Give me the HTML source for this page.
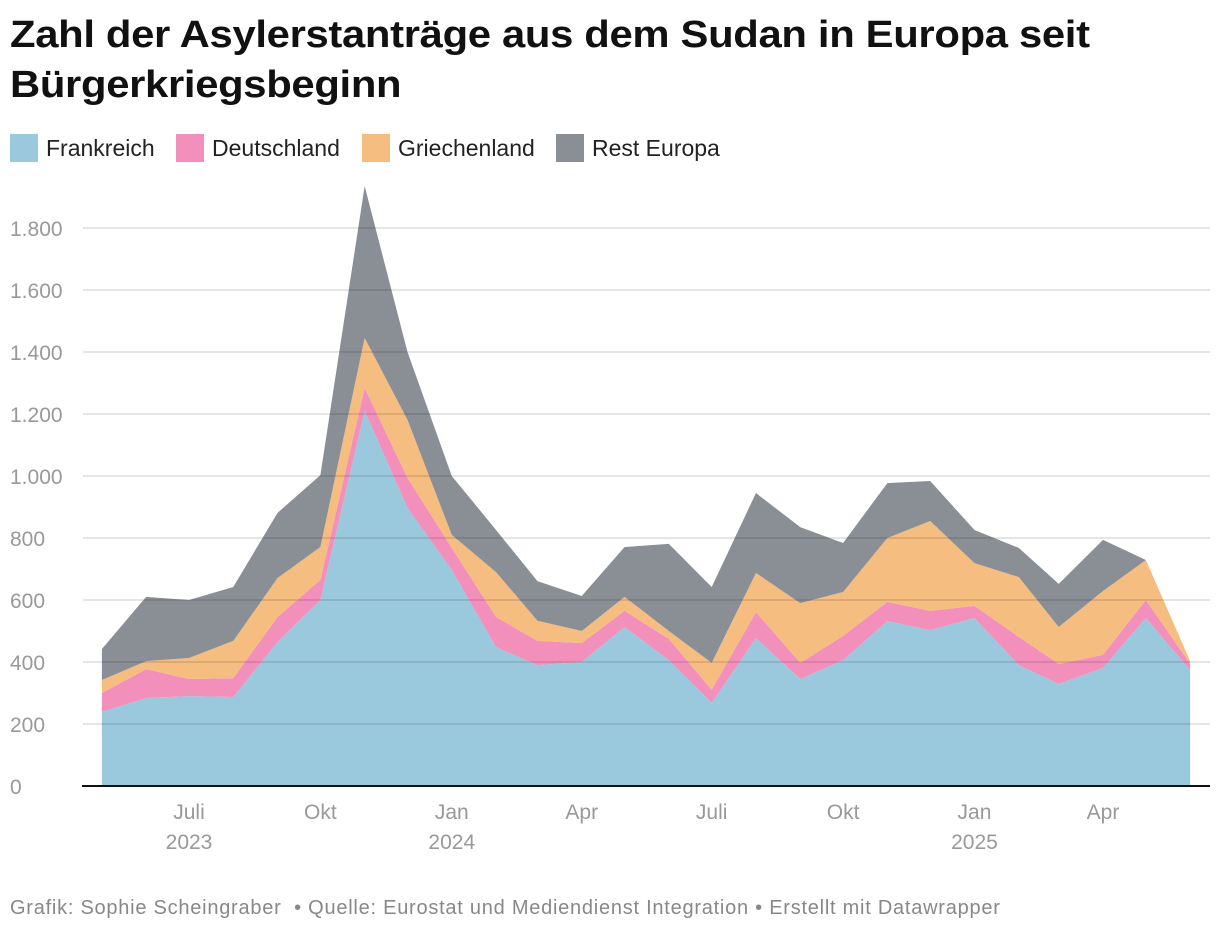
<!DOCTYPE html>
<html><head><meta charset="utf-8"><style>
body{margin:0;background:#fff;font-family:"Liberation Sans",sans-serif;width:1220px;height:932px;overflow:hidden;position:relative}
h1{position:absolute;left:10px;top:10px;margin:0;font-size:38px;line-height:50px;font-weight:bold;color:#111;letter-spacing:-0.3px;transform:scaleX(1.1);transform-origin:left top;white-space:nowrap}
.leg{position:absolute;top:134px;height:28px;display:flex;align-items:center;font-size:23px;color:#222}
.sw{width:28px;height:28px;margin-right:8px}
.foot{position:absolute;left:10px;top:897px;font-size:20px;color:#888;letter-spacing:0.75px;white-space:nowrap}
</style></head><body>
<h1>Zahl der Asylerstanträge aus dem Sudan in Europa seit<br>Bürgerkriegsbeginn</h1>
<div class="leg" style="left:10px"><div class="sw" style="background:#9ac8dd"></div>Frankreich</div>
<div class="leg" style="left:176px"><div class="sw" style="background:#f28fbb"></div>Deutschland</div>
<div class="leg" style="left:362px"><div class="sw" style="background:#f5bd80"></div>Griechenland</div>
<div class="leg" style="left:556px"><div class="sw" style="background:#8a8f96"></div>Rest Europa</div>
<svg id="chart" width="1220" height="932" style="position:absolute;left:0;top:0"></svg>
<div class="foot">Grafik: Sophie Scheingraber &nbsp;• Quelle: Eurostat und Mediendienst Integration • Erstellt mit Datawrapper</div>
<script>
const months=["2023-05","2023-06","2023-07","2023-08","2023-09","2023-10","2023-11","2023-12","2024-01","2024-02","2024-03","2024-04","2024-05","2024-06","2024-07","2024-08","2024-09","2024-10","2024-11","2024-12","2025-01","2025-02","2025-03","2025-04","2025-05","2025-06"];
const frankreich=[239,284,290,287,465,600,1210,897,697,448,390,400,513,406,268,477,345,406,532,503,542,390,329,381,542,374];
const deutschland=[61,93,55,61,80,65,74,97,71,97,78,61,52,68,42,84,52,78,62,62,39,91,65,42,58,20];
const griechenland=[42,26,68,120,126,106,161,187,42,145,65,39,45,26,87,126,193,142,206,290,138,193,119,206,129,9];
const restEuropa=[100,207,187,174,210,232,490,219,190,136,128,113,161,281,245,258,245,158,177,129,107,94,139,165,0,0];
const yTicks=[0,200,400,600,800,1000,1200,1400,1600,1800];
const xTicks=[["2023-07","Juli","2023"],["2023-10","Okt",""],["2024-01","Jan","2024"],["2024-04","Apr",""],["2024-07","Juli",""],["2024-10","Okt",""],["2025-01","Jan","2025"],["2025-04","Apr",""]];
const NS="http://www.w3.org/2000/svg";
const svg=document.getElementById('chart');
const t0=Date.UTC(2023,6,1),t1=Date.UTC(2025,3,1);
function x(m){const[y,mo]=m.split('-').map(Number);const t=Date.UTC(y,mo-1,1);return 189+(t-t0)/(t1-t0)*914;}
function y(v){return 786-v*0.31;}
function mk(tag,attrs){const e=document.createElementNS(NS,tag);for(const k in attrs)e.setAttribute(k,attrs[k]);svg.appendChild(e);return e;}
const series=[[frankreich,"#9ac8dd","area-frankreich"],[deutschland,"#f28fbb","area-deutschland"],[griechenland,"#f5bd80","area-griechenland"],[restEuropa,"#8a8f96","area-rest-europa"]];
let base=months.map(()=>0);
series.forEach(([vals,col,name])=>{
  const top=base.map((b,i)=>b+vals[i]);
  let d="M"+months.map((m,i)=>x(m)+","+y(top[i])).join("L");
  for(let i=months.length-1;i>=0;i--)d+="L"+x(months[i])+","+y(base[i]);
  const p=mk('path',{d:d+"Z",fill:col});
  
  
  base=top;
});
yTicks.forEach(v=>{
  if(v>0){const l=mk('line',{x1:83,x2:1210,y1:y(v),y2:y(v),stroke:'#000','stroke-opacity':0.1,'stroke-width':2});
  
  }
  const t=mk('text',{x:10,y:y(v)+8,'font-size':21,fill:'#999','font-family':'Liberation Sans, sans-serif'});
  t.textContent=v.toLocaleString('de-DE');
  
  
});
const ax=mk('line',{x1:82,x2:1210,y1:786,y2:786,stroke:'#111','stroke-width':2});


xTicks.forEach(([m,lab,yr])=>{
  const t=mk('text',{x:x(m),y:819,'font-size':21,fill:'#999','text-anchor':'middle','font-family':'Liberation Sans, sans-serif'});
  t.textContent=lab;
  
  
  if(yr){const t2=mk('text',{x:x(m),y:849,'font-size':21,fill:'#999','text-anchor':'middle','font-family':'Liberation Sans, sans-serif'});
  t2.textContent=yr;
  
  }
});
</script>
</body></html>
